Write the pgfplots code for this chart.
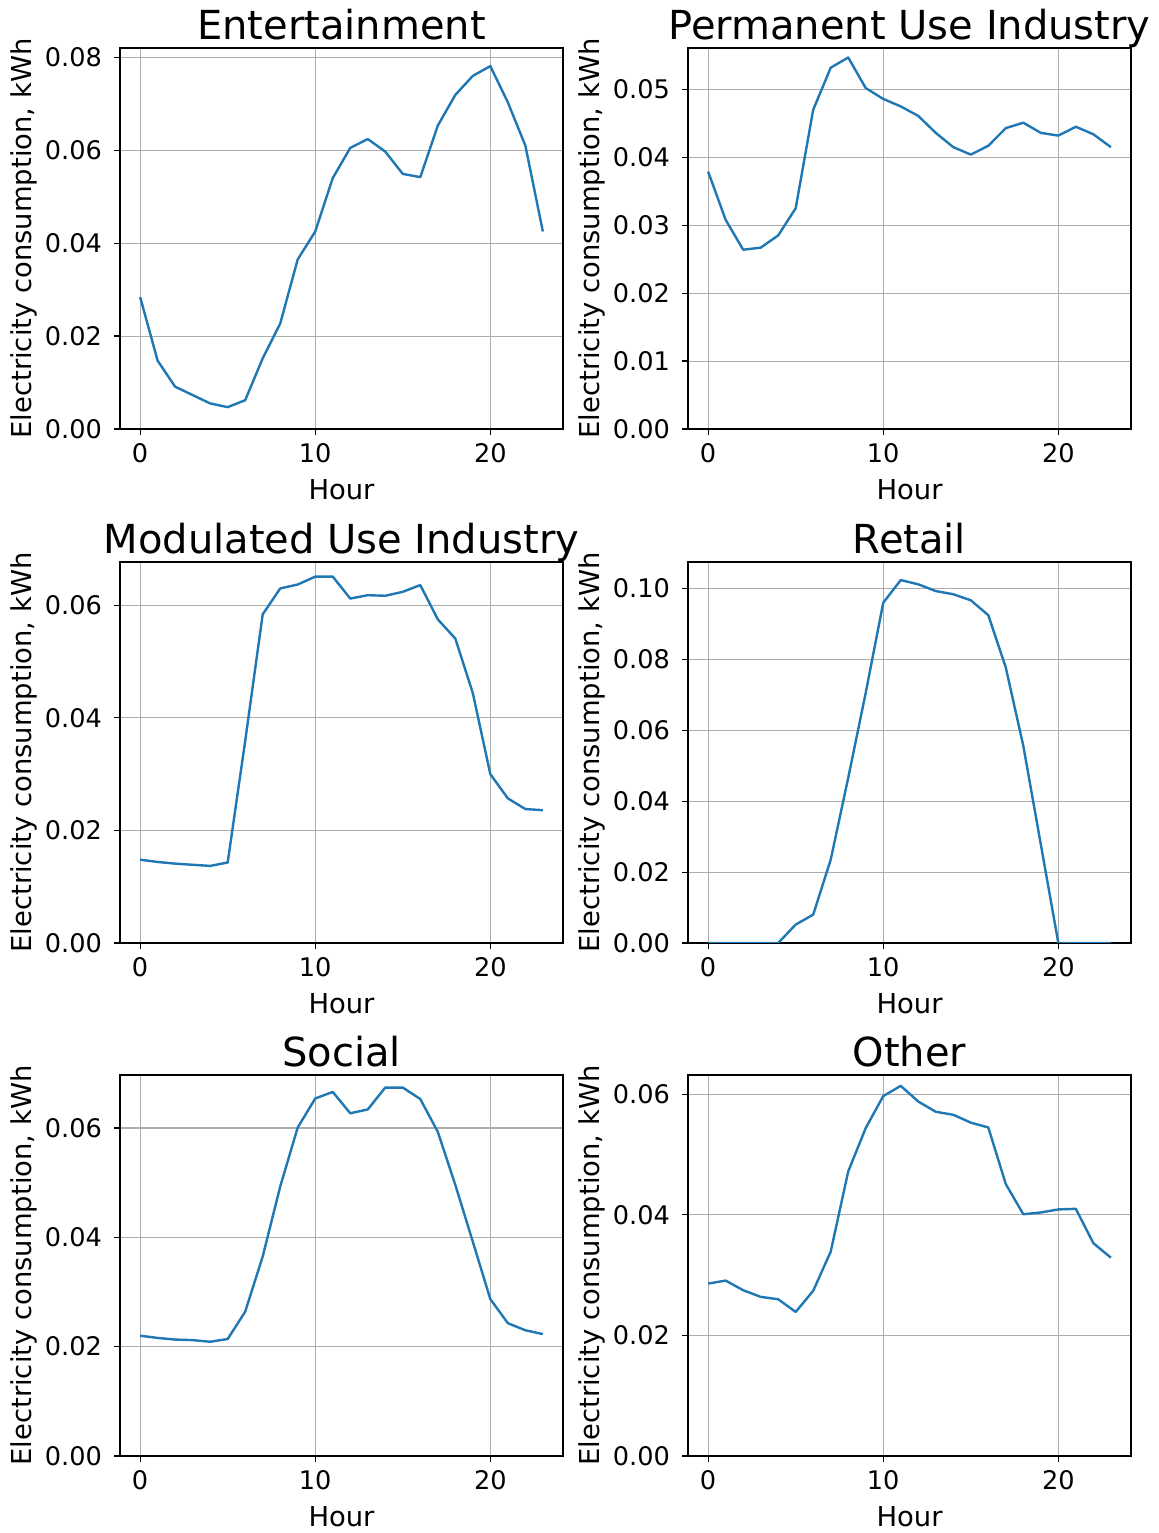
\documentclass[border=0pt]{standalone}
\usepackage{fontspec}
\setmainfont{DejaVu Sans}
\usepackage{pgfplots}
\usepackage{pgfplotstable}
\pgfplotsset{compat=1.18}
\definecolor{mplblue}{HTML}{1F77B4}

\pgfplotstableread{
h v
0 0.0284
1 0.0147
2 0.0091
3 0.0073
4 0.0055
5 0.0047
6 0.0062
7 0.0152
8 0.0227
9 0.0365
10 0.0425
11 0.0540
12 0.0605
13 0.0624
14 0.0597
15 0.0549
16 0.0542
17 0.0653
18 0.0719
19 0.0760
20 0.0781
21 0.0703
22 0.0610
23 0.0425
}\entertainment

\pgfplotstableread{
h v
0 0.0379
1 0.0308
2 0.0264
3 0.0267
4 0.0285
5 0.0325
6 0.0470
7 0.0532
8 0.0547
9 0.0502
10 0.0486
11 0.0475
12 0.0461
13 0.0436
14 0.0415
15 0.0404
16 0.0417
17 0.0443
18 0.0451
19 0.0436
20 0.0432
21 0.0445
22 0.0434
23 0.0415
}\permanent

\pgfplotstableread{
h v
0 0.0148
1 0.0144
2 0.0141
3 0.0139
4 0.0137
5 0.0143
6 0.0359
7 0.0584
8 0.0630
9 0.0637
10 0.0651
11 0.0651
12 0.0612
13 0.0618
14 0.0617
15 0.0624
16 0.0636
17 0.0575
18 0.0541
19 0.0444
20 0.0300
21 0.0257
22 0.0238
23 0.0236
}\modulated

\pgfplotstableread{
h v
0 0
1 0
2 0
3 0
4 0
5 0.0052
6 0.0080
7 0.0235
8 0.0466
9 0.0706
10 0.0960
11 0.1024
12 0.1012
13 0.0993
14 0.0984
15 0.0967
16 0.0925
17 0.0777
18 0.0556
19 0.0278
20 0
21 0
22 0
23 0
}\retail

\pgfplotstableread{
h v
0 0.0220
1 0.0216
2 0.0213
3 0.0212
4 0.0209
5 0.0214
6 0.0264
7 0.0365
8 0.0493
9 0.0601
10 0.0654
11 0.0666
12 0.0627
13 0.0634
14 0.0674
15 0.0674
16 0.0653
17 0.0593
18 0.0496
19 0.0392
20 0.0287
21 0.0243
22 0.0230
23 0.0223
}\social

\pgfplotstableread{
h v
0 0.0286
1 0.0291
2 0.0275
3 0.0264
4 0.0260
5 0.0239
6 0.0274
7 0.0339
8 0.0472
9 0.0544
10 0.0597
11 0.0614
12 0.0588
13 0.0571
14 0.0566
15 0.0553
16 0.0545
17 0.0451
18 0.0401
19 0.0404
20 0.0409
21 0.0410
22 0.0353
23 0.0329
}\other

\pgfplotsset{
  panel/.style={
    scale only axis,
    width=221.5pt, height=190.5pt,
    anchor=south west,
    xmin=-1.15, xmax=24.15, ymin=0,
    xtick={0,10,20},
    grid=major,
    major grid style={black!32, line width=0.55pt},
    axis line style={black, line width=0.6pt},
    tick pos=left,
    tick align=outside,
    major tick length=3pt,
    tick style={black, line width=0.6pt},
    /pgf/number format/assume math mode=true,
    ticklabel style={font=\fontsize{12.8}{15}\selectfont},
    yticklabel style={/pgf/number format/fixed, /pgf/number format/zerofill, /pgf/number format/precision=2, xshift=-2.5pt},
    xticklabel style={yshift=-0.8pt},
    scaled y ticks=false,
    label style={font=\fontsize{13.7}{16}\selectfont},
    xlabel style={yshift=-1.5pt},
    ylabel style={yshift=-3pt},
    xlabel={Hour},
    ylabel={Electricity consumption, kWh},
    title style={font=\fontsize{20}{24}\selectfont, at={(0.5,1)}, anchor=base, yshift=-2pt},
  },
  curve/.style={color=mplblue, line width=1.2pt, line join=round},
}

\begin{document}
\begin{tikzpicture}
\useasboundingbox (0,0) rectangle (579.5pt,766.5pt);

\begin{axis}[panel, at={(60pt,552pt)}, title={Entertainment}, ymax=0.0820, ytick={0,0.02,0.04,0.06,0.08}]
\addplot[curve] table[x=h,y=v] {\entertainment};
\end{axis}

\begin{axis}[panel, at={(344pt,552pt)}, title={Permanent Use Industry}, ymax=0.0561, ytick={0,0.01,0.02,0.03,0.04,0.05}]
\addplot[curve] table[x=h,y=v] {\permanent};
\end{axis}

\begin{axis}[panel, at={(60pt,295pt)}, title={Modulated Use Industry}, ymax=0.0677, ytick={0,0.02,0.04,0.06}]
\addplot[curve] table[x=h,y=v] {\modulated};
\end{axis}

\begin{axis}[panel, at={(344pt,295pt)}, title={Retail}, ymax=0.1075, ytick={0,0.02,0.04,0.06,0.08,0.10}]
\addplot[curve] table[x=h,y=v] {\retail};
\end{axis}

\begin{axis}[panel, at={(60pt,38.5pt)}, title={Social}, ymax=0.0697, ytick={0,0.02,0.04,0.06}]
\addplot[curve] table[x=h,y=v] {\social};
\end{axis}

\begin{axis}[panel, at={(344pt,38.5pt)}, title={Other}, ymax=0.0632, ytick={0,0.02,0.04,0.06}]
\addplot[curve] table[x=h,y=v] {\other};
\end{axis}
\end{tikzpicture}
\end{document}
